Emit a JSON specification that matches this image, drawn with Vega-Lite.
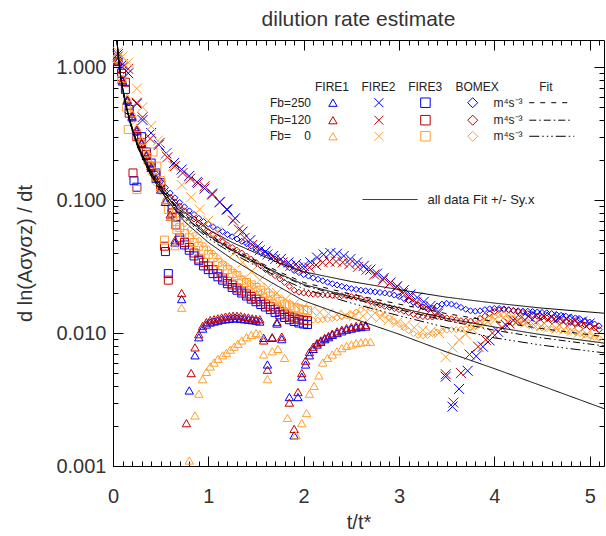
{
"$schema":"https://vega.github.io/schema/vega-lite/v6.json",
"width":491,"height":426,
"autosize":{"type":"none"},
"padding":{"left":113,"top":40,"right":2,"bottom":70},
"background":"white",
"config":{"view":{"stroke":"#000","strokeWidth":1},"font":"Liberation Sans","axis":{"grid":false,"domain":false,"tickColor":"#000","tickWidth":1,"labelFlush":false}},
"title":{"text":"dilution rate estimate","fontSize":21,"fontWeight":"normal","color":"#333","offset":10,"anchor":"middle"},
"datasets":{
"d250":[{"x":0.1,"y":0.8},{"x":0.15,"y":0.57},{"x":0.2,"y":0.43},{"x":0.25,"y":0.34},{"x":0.3,"y":0.27},{"x":0.35,"y":0.22},{"x":0.4,"y":0.185},{"x":0.45,"y":0.158},{"x":0.5,"y":0.138},{"x":0.55,"y":0.124},{"x":0.6,"y":0.113},{"x":0.65,"y":0.104},{"x":0.7,"y":0.096},{"x":0.75,"y":0.089},{"x":0.8,"y":0.083},{"x":0.85,"y":0.078},{"x":0.9,"y":0.073},{"x":0.95,"y":0.069},{"x":1.0,"y":0.066},{"x":1.05,"y":0.063},{"x":1.1,"y":0.06},{"x":1.15,"y":0.058},{"x":1.2,"y":0.055},{"x":1.25,"y":0.053},{"x":1.3,"y":0.051},{"x":1.35,"y":0.049},{"x":1.4,"y":0.047},{"x":1.45,"y":0.045},{"x":1.5,"y":0.043},{"x":1.55,"y":0.041},{"x":1.6,"y":0.04},{"x":1.65,"y":0.038},{"x":1.7,"y":0.036},{"x":1.75,"y":0.0345},{"x":1.8,"y":0.033},{"x":1.85,"y":0.031},{"x":1.9,"y":0.0295},{"x":1.95,"y":0.0285},{"x":2.0,"y":0.0275},{"x":2.05,"y":0.0268},{"x":2.1,"y":0.026},{"x":2.15,"y":0.0254},{"x":2.2,"y":0.0247},{"x":2.25,"y":0.0241},{"x":2.3,"y":0.0235},{"x":2.35,"y":0.023},{"x":2.4,"y":0.0225},{"x":2.45,"y":0.022},{"x":2.5,"y":0.0216},{"x":2.55,"y":0.0213},{"x":2.6,"y":0.021},{"x":2.65,"y":0.0208},{"x":2.7,"y":0.0206},{"x":2.75,"y":0.0204},{"x":2.8,"y":0.0202},{"x":2.85,"y":0.02},{"x":2.9,"y":0.0197},{"x":2.95,"y":0.0193},{"x":3.0,"y":0.0188},{"x":3.05,"y":0.0182},{"x":3.1,"y":0.0176},{"x":3.15,"y":0.017},{"x":3.2,"y":0.0163},{"x":3.25,"y":0.0157},{"x":3.3,"y":0.0152},{"x":3.35,"y":0.0154},{"x":3.4,"y":0.016},{"x":3.45,"y":0.0165},{"x":3.5,"y":0.0167},{"x":3.55,"y":0.0165},{"x":3.6,"y":0.0161},{"x":3.65,"y":0.0156},{"x":3.7,"y":0.0151},{"x":3.75,"y":0.0147},{"x":3.8,"y":0.0146},{"x":3.85,"y":0.0147},{"x":3.9,"y":0.015},{"x":3.95,"y":0.0152},{"x":4.0,"y":0.0153},{"x":4.05,"y":0.0153},{"x":4.1,"y":0.0152},{"x":4.15,"y":0.015},{"x":4.2,"y":0.0148},{"x":4.25,"y":0.0147},{"x":4.3,"y":0.0146},{"x":4.35,"y":0.0146},{"x":4.4,"y":0.0145},{"x":4.45,"y":0.0144},{"x":4.5,"y":0.0143},{"x":4.55,"y":0.0142},{"x":4.6,"y":0.014},{"x":4.65,"y":0.0138},{"x":4.7,"y":0.0136},{"x":4.75,"y":0.0134},{"x":4.8,"y":0.0132},{"x":4.85,"y":0.013},{"x":4.9,"y":0.0127},{"x":4.95,"y":0.0124},{"x":5.0,"y":0.0121},{"x":5.05,"y":0.0117},{"x":5.1,"y":0.0113}],
"d120":[{"x":0.1,"y":0.78},{"x":0.15,"y":0.55},{"x":0.2,"y":0.41},{"x":0.25,"y":0.32},{"x":0.3,"y":0.255},{"x":0.35,"y":0.207},{"x":0.4,"y":0.172},{"x":0.45,"y":0.147},{"x":0.5,"y":0.129},{"x":0.55,"y":0.116},{"x":0.6,"y":0.105},{"x":0.65,"y":0.097},{"x":0.7,"y":0.09},{"x":0.75,"y":0.083},{"x":0.8,"y":0.077},{"x":0.85,"y":0.072},{"x":0.9,"y":0.067},{"x":0.95,"y":0.062},{"x":1.0,"y":0.058},{"x":1.05,"y":0.055},{"x":1.1,"y":0.052},{"x":1.15,"y":0.049},{"x":1.2,"y":0.046},{"x":1.25,"y":0.044},{"x":1.3,"y":0.042},{"x":1.35,"y":0.04},{"x":1.4,"y":0.038},{"x":1.45,"y":0.036},{"x":1.5,"y":0.034},{"x":1.55,"y":0.032},{"x":1.6,"y":0.03},{"x":1.65,"y":0.0285},{"x":1.7,"y":0.027},{"x":1.75,"y":0.0255},{"x":1.8,"y":0.024},{"x":1.85,"y":0.0225},{"x":1.9,"y":0.021},{"x":1.95,"y":0.0203},{"x":2.0,"y":0.02},{"x":2.05,"y":0.0198},{"x":2.1,"y":0.0196},{"x":2.15,"y":0.0195},{"x":2.2,"y":0.0194},{"x":2.25,"y":0.0193},{"x":2.3,"y":0.0192},{"x":2.35,"y":0.0192},{"x":2.4,"y":0.0191},{"x":2.45,"y":0.019},{"x":2.5,"y":0.0188},{"x":2.55,"y":0.0186},{"x":2.6,"y":0.0182},{"x":2.65,"y":0.0177},{"x":2.7,"y":0.0172},{"x":2.75,"y":0.0167},{"x":2.8,"y":0.0163},{"x":2.85,"y":0.0159},{"x":2.9,"y":0.0156},{"x":2.95,"y":0.0153},{"x":3.0,"y":0.015},{"x":3.05,"y":0.0146},{"x":3.1,"y":0.0142},{"x":3.15,"y":0.0138},{"x":3.2,"y":0.0135},{"x":3.25,"y":0.0133},{"x":3.3,"y":0.0132},{"x":3.35,"y":0.0132},{"x":3.4,"y":0.0133},{"x":3.45,"y":0.0132},{"x":3.5,"y":0.013},{"x":3.55,"y":0.0128},{"x":3.6,"y":0.0126},{"x":3.65,"y":0.0124},{"x":3.7,"y":0.0123},{"x":3.75,"y":0.0123},{"x":3.8,"y":0.0125},{"x":3.85,"y":0.0129},{"x":3.9,"y":0.0134},{"x":3.95,"y":0.014},{"x":4.0,"y":0.0145},{"x":4.05,"y":0.0149},{"x":4.1,"y":0.015},{"x":4.15,"y":0.0149},{"x":4.2,"y":0.0147},{"x":4.25,"y":0.0145},{"x":4.3,"y":0.0143},{"x":4.35,"y":0.014},{"x":4.4,"y":0.0137},{"x":4.45,"y":0.0134},{"x":4.5,"y":0.0132},{"x":4.55,"y":0.013},{"x":4.6,"y":0.0128},{"x":4.65,"y":0.0126},{"x":4.7,"y":0.0124},{"x":4.75,"y":0.0122},{"x":4.8,"y":0.012},{"x":4.85,"y":0.0119},{"x":4.9,"y":0.0117},{"x":4.95,"y":0.0115},{"x":5.0,"y":0.0112},{"x":5.05,"y":0.0109},{"x":5.1,"y":0.0106}],
"d0":[{"x":0.1,"y":0.75},{"x":0.15,"y":0.53},{"x":0.2,"y":0.39},{"x":0.25,"y":0.3},{"x":0.3,"y":0.24},{"x":0.35,"y":0.19},{"x":0.4,"y":0.158},{"x":0.45,"y":0.133},{"x":0.5,"y":0.115},{"x":0.55,"y":0.101},{"x":0.6,"y":0.09},{"x":0.65,"y":0.081},{"x":0.7,"y":0.073},{"x":0.75,"y":0.066},{"x":0.8,"y":0.06},{"x":0.85,"y":0.055},{"x":0.9,"y":0.05},{"x":0.95,"y":0.046},{"x":1.0,"y":0.043},{"x":1.05,"y":0.04},{"x":1.1,"y":0.037},{"x":1.15,"y":0.034},{"x":1.2,"y":0.032},{"x":1.25,"y":0.03},{"x":1.3,"y":0.028},{"x":1.35,"y":0.026},{"x":1.4,"y":0.0245},{"x":1.45,"y":0.023},{"x":1.5,"y":0.0215},{"x":1.55,"y":0.02},{"x":1.6,"y":0.019},{"x":1.65,"y":0.018},{"x":1.7,"y":0.017},{"x":1.75,"y":0.016},{"x":1.8,"y":0.0152},{"x":1.85,"y":0.0145},{"x":1.9,"y":0.0138},{"x":1.95,"y":0.0132},{"x":2.0,"y":0.0128},{"x":2.05,"y":0.0126},{"x":2.1,"y":0.0125},{"x":2.15,"y":0.0125},{"x":2.2,"y":0.0126},{"x":2.25,"y":0.0127},{"x":2.3,"y":0.0128},{"x":2.35,"y":0.013},{"x":2.4,"y":0.0132},{"x":2.45,"y":0.0134},{"x":2.5,"y":0.0138},{"x":2.55,"y":0.0144},{"x":2.6,"y":0.015},{"x":2.65,"y":0.0154},{"x":2.7,"y":0.0153},{"x":2.75,"y":0.0148},{"x":2.8,"y":0.0142},{"x":2.85,"y":0.0136},{"x":2.9,"y":0.013},{"x":2.95,"y":0.0123},{"x":3.0,"y":0.0116},{"x":3.05,"y":0.011},{"x":3.1,"y":0.0104},{"x":3.15,"y":0.0099},{"x":3.2,"y":0.0096},{"x":3.25,"y":0.0095},{"x":3.3,"y":0.0096},{"x":3.35,"y":0.0099},{"x":3.4,"y":0.0102},{"x":3.45,"y":0.0104},{"x":3.5,"y":0.0105},{"x":3.55,"y":0.0106},{"x":3.6,"y":0.0106},{"x":3.65,"y":0.0107},{"x":3.7,"y":0.0108},{"x":3.75,"y":0.011},{"x":3.8,"y":0.0113},{"x":3.85,"y":0.0117},{"x":3.9,"y":0.0122},{"x":3.95,"y":0.0128},{"x":4.0,"y":0.0133},{"x":4.05,"y":0.0137},{"x":4.1,"y":0.0138},{"x":4.15,"y":0.0135},{"x":4.2,"y":0.013},{"x":4.25,"y":0.0124},{"x":4.3,"y":0.0119},{"x":4.35,"y":0.0115},{"x":4.4,"y":0.0112},{"x":4.45,"y":0.011},{"x":4.5,"y":0.0109},{"x":4.55,"y":0.0108},{"x":4.6,"y":0.0107},{"x":4.65,"y":0.0106},{"x":4.7,"y":0.0105},{"x":4.75,"y":0.0104},{"x":4.8,"y":0.0103},{"x":4.85,"y":0.0101},{"x":4.9,"y":0.0099},{"x":4.95,"y":0.0097},{"x":5.0,"y":0.0095},{"x":5.05,"y":0.0093},{"x":5.1,"y":0.0091}],
"q250":[{"x":0.05,"y":1.15},{"x":0.09,"y":0.9},{"x":0.13,"y":0.68},{"x":0.17,"y":0.48},{"x":0.22,"y":0.14},{"x":0.25,"y":0.125},{"x":0.3,"y":0.3},{"x":0.35,"y":0.23},{"x":0.4,"y":0.19},{"x":0.45,"y":0.16},{"x":0.5,"y":0.135},{"x":0.55,"y":0.041},{"x":0.58,"y":0.028},{"x":0.62,"y":0.085},{"x":0.66,"y":0.075},{"x":0.7,"y":0.05},{"x":0.75,"y":0.046},{"x":0.8,"y":0.042},{"x":0.85,"y":0.038},{"x":0.9,"y":0.035},{"x":0.95,"y":0.032},{"x":1.0,"y":0.03},{"x":1.05,"y":0.028},{"x":1.1,"y":0.0265},{"x":1.15,"y":0.025},{"x":1.2,"y":0.0235},{"x":1.25,"y":0.022},{"x":1.3,"y":0.021},{"x":1.35,"y":0.02},{"x":1.4,"y":0.019},{"x":1.45,"y":0.018},{"x":1.5,"y":0.0172},{"x":1.55,"y":0.0164},{"x":1.6,"y":0.0157},{"x":1.65,"y":0.015},{"x":1.7,"y":0.0143},{"x":1.75,"y":0.0137},{"x":1.8,"y":0.0131},{"x":1.85,"y":0.0126},{"x":1.9,"y":0.0122},{"x":1.95,"y":0.0119},{"x":2.0,"y":0.0117},{"x":2.04,"y":0.0116}],
"q120":[{"x":0.05,"y":1.1},{"x":0.09,"y":0.85},{"x":0.13,"y":0.77},{"x":0.17,"y":0.45},{"x":0.21,"y":0.16},{"x":0.25,"y":0.3},{"x":0.3,"y":0.27},{"x":0.35,"y":0.22},{"x":0.4,"y":0.18},{"x":0.45,"y":0.155},{"x":0.5,"y":0.13},{"x":0.54,"y":0.045},{"x":0.58,"y":0.025},{"x":0.62,"y":0.08},{"x":0.66,"y":0.065},{"x":0.7,"y":0.052},{"x":0.75,"y":0.048},{"x":0.8,"y":0.044},{"x":0.85,"y":0.04},{"x":0.9,"y":0.036},{"x":0.95,"y":0.034},{"x":1.0,"y":0.032},{"x":1.05,"y":0.03},{"x":1.1,"y":0.028},{"x":1.15,"y":0.026},{"x":1.2,"y":0.0245},{"x":1.25,"y":0.023},{"x":1.3,"y":0.0218},{"x":1.35,"y":0.0207},{"x":1.4,"y":0.0197},{"x":1.45,"y":0.0188},{"x":1.5,"y":0.018},{"x":1.55,"y":0.0172},{"x":1.6,"y":0.0165},{"x":1.65,"y":0.0158},{"x":1.7,"y":0.0151},{"x":1.75,"y":0.0145},{"x":1.8,"y":0.0139},{"x":1.85,"y":0.0134},{"x":1.9,"y":0.013},{"x":1.95,"y":0.0127},{"x":2.0,"y":0.0125},{"x":2.04,"y":0.0124}],
"q0":[{"x":0.05,"y":1.15},{"x":0.09,"y":0.8},{"x":0.14,"y":0.5},{"x":0.16,"y":0.34},{"x":0.25,"y":0.12},{"x":0.3,"y":0.26},{"x":0.36,"y":0.21},{"x":0.42,"y":0.23},{"x":0.46,"y":0.18},{"x":0.5,"y":0.14},{"x":0.54,"y":0.05},{"x":0.58,"y":0.085},{"x":0.62,"y":0.075},{"x":0.67,"y":0.06},{"x":0.7,"y":0.062},{"x":0.75,"y":0.056},{"x":0.8,"y":0.052},{"x":0.85,"y":0.048},{"x":0.9,"y":0.045},{"x":0.95,"y":0.042},{"x":1.0,"y":0.039},{"x":1.05,"y":0.037},{"x":1.1,"y":0.034},{"x":1.15,"y":0.032},{"x":1.2,"y":0.03},{"x":1.25,"y":0.028},{"x":1.3,"y":0.027},{"x":1.35,"y":0.025},{"x":1.4,"y":0.024},{"x":1.45,"y":0.023},{"x":1.5,"y":0.022},{"x":1.55,"y":0.021},{"x":1.6,"y":0.02},{"x":1.65,"y":0.019},{"x":1.7,"y":0.018},{"x":1.75,"y":0.0172},{"x":1.8,"y":0.0165},{"x":1.85,"y":0.016},{"x":1.9,"y":0.0155},{"x":1.95,"y":0.0152},{"x":2.0,"y":0.015},{"x":2.04,"y":0.0148}],
"t250":[{"x":0.05,"y":1.1},{"x":0.1,"y":0.78},{"x":0.15,"y":0.56},{"x":0.2,"y":0.42},{"x":0.25,"y":0.33},{"x":0.3,"y":0.265},{"x":0.35,"y":0.215},{"x":0.4,"y":0.175},{"x":0.45,"y":0.145},{"x":0.5,"y":0.12},{"x":0.55,"y":0.097},{"x":0.6,"y":0.075},{"x":0.65,"y":0.048},{"x":0.72,"y":0.018},{"x":0.8,"y":0.0037},{"x":0.86,"y":0.0068},{"x":0.9,"y":0.0093},{"x":0.94,"y":0.0108},{"x":0.98,"y":0.0116},{"x":1.02,"y":0.012},{"x":1.06,"y":0.0122},{"x":1.1,"y":0.0124},{"x":1.14,"y":0.0126},{"x":1.18,"y":0.0127},{"x":1.22,"y":0.0128},{"x":1.26,"y":0.0129},{"x":1.3,"y":0.0129},{"x":1.34,"y":0.0128},{"x":1.38,"y":0.0127},{"x":1.42,"y":0.0126},{"x":1.46,"y":0.0125},{"x":1.5,"y":0.0124},{"x":1.54,"y":0.0122},{"x":1.58,"y":0.0092},{"x":1.62,"y":0.0058},{"x":1.67,"y":0.0092},{"x":1.72,"y":0.0118},{"x":1.77,"y":0.009},{"x":1.85,"y":0.0033},{"x":1.9,"y":0.0017},{"x":1.94,"y":0.0033},{"x":1.98,"y":0.0047},{"x":2.02,"y":0.0058},{"x":2.06,"y":0.0068},{"x":2.1,"y":0.0076},{"x":2.14,"y":0.0082},{"x":2.18,"y":0.0086},{"x":2.22,"y":0.009},{"x":2.26,"y":0.0093},{"x":2.3,"y":0.0097},{"x":2.35,"y":0.01},{"x":2.4,"y":0.0103},{"x":2.45,"y":0.0106},{"x":2.5,"y":0.0108},{"x":2.55,"y":0.011},{"x":2.6,"y":0.0111},{"x":2.65,"y":0.0112}],
"t120":[{"x":0.05,"y":1.12},{"x":0.1,"y":0.8},{"x":0.15,"y":0.57},{"x":0.2,"y":0.43},{"x":0.25,"y":0.34},{"x":0.3,"y":0.27},{"x":0.35,"y":0.22},{"x":0.4,"y":0.18},{"x":0.45,"y":0.15},{"x":0.5,"y":0.125},{"x":0.55,"y":0.1},{"x":0.6,"y":0.078},{"x":0.65,"y":0.05},{"x":0.72,"y":0.02},{"x":0.77,"y":0.0021},{"x":0.82,"y":0.005},{"x":0.86,"y":0.0078},{"x":0.9,"y":0.0098},{"x":0.94,"y":0.0113},{"x":0.98,"y":0.0121},{"x":1.02,"y":0.0125},{"x":1.06,"y":0.0127},{"x":1.1,"y":0.0129},{"x":1.14,"y":0.0131},{"x":1.18,"y":0.0133},{"x":1.22,"y":0.0134},{"x":1.26,"y":0.0135},{"x":1.3,"y":0.0135},{"x":1.34,"y":0.0134},{"x":1.38,"y":0.0132},{"x":1.42,"y":0.0131},{"x":1.46,"y":0.0129},{"x":1.5,"y":0.0128},{"x":1.54,"y":0.0127},{"x":1.58,"y":0.0088},{"x":1.62,"y":0.0053},{"x":1.67,"y":0.0093},{"x":1.72,"y":0.0121},{"x":1.77,"y":0.0094},{"x":1.85,"y":0.003},{"x":1.9,"y":0.0019},{"x":1.94,"y":0.0036},{"x":1.98,"y":0.005},{"x":2.02,"y":0.0062},{"x":2.06,"y":0.0072},{"x":2.1,"y":0.0079},{"x":2.14,"y":0.0084},{"x":2.18,"y":0.0088},{"x":2.22,"y":0.0092},{"x":2.26,"y":0.0095},{"x":2.3,"y":0.0099},{"x":2.35,"y":0.0103},{"x":2.4,"y":0.0106},{"x":2.45,"y":0.0109},{"x":2.5,"y":0.0111},{"x":2.55,"y":0.0113},{"x":2.6,"y":0.0114},{"x":2.65,"y":0.0115}],
"t0":[{"x":0.05,"y":1.15},{"x":0.1,"y":0.82},{"x":0.15,"y":0.59},{"x":0.2,"y":0.45},{"x":0.25,"y":0.35},{"x":0.3,"y":0.28},{"x":0.35,"y":0.225},{"x":0.4,"y":0.185},{"x":0.45,"y":0.15},{"x":0.5,"y":0.125},{"x":0.55,"y":0.1},{"x":0.6,"y":0.075},{"x":0.65,"y":0.045},{"x":0.72,"y":0.0155},{"x":0.8,"y":0.0011},{"x":0.86,"y":0.0024},{"x":0.9,"y":0.0035},{"x":0.94,"y":0.0045},{"x":0.98,"y":0.0051},{"x":1.02,"y":0.0056},{"x":1.06,"y":0.006},{"x":1.1,"y":0.0064},{"x":1.15,"y":0.0068},{"x":1.19,"y":0.0071},{"x":1.23,"y":0.0075},{"x":1.27,"y":0.0079},{"x":1.31,"y":0.0083},{"x":1.35,"y":0.0088},{"x":1.4,"y":0.0093},{"x":1.45,"y":0.0097},{"x":1.5,"y":0.01},{"x":1.54,"y":0.0098},{"x":1.58,"y":0.0069},{"x":1.62,"y":0.0045},{"x":1.67,"y":0.0073},{"x":1.73,"y":0.0076},{"x":1.8,"y":0.0065},{"x":1.83,"y":0.0023},{"x":1.92,"y":0.0017},{"x":1.98,"y":0.0021},{"x":2.03,"y":0.0025},{"x":2.06,"y":0.0035},{"x":2.11,"y":0.004},{"x":2.16,"y":0.0048},{"x":2.2,"y":0.006},{"x":2.25,"y":0.0065},{"x":2.3,"y":0.0069},{"x":2.35,"y":0.0073},{"x":2.4,"y":0.0077},{"x":2.45,"y":0.008},{"x":2.5,"y":0.0082},{"x":2.55,"y":0.0084},{"x":2.6,"y":0.0085},{"x":2.65,"y":0.0086},{"x":2.7,"y":0.0086}],
"c250":[{"x":0.05,"y":1.25},{"x":0.1,"y":1.05},{"x":0.16,"y":0.9},{"x":0.25,"y":0.53},{"x":0.31,"y":0.4},{"x":0.4,"y":0.32},{"x":0.48,"y":0.26},{"x":0.56,"y":0.225},{"x":0.64,"y":0.19},{"x":0.72,"y":0.17},{"x":0.8,"y":0.152},{"x":0.88,"y":0.137},{"x":0.96,"y":0.122},{"x":1.04,"y":0.112},{"x":1.12,"y":0.097},{"x":1.2,"y":0.085},{"x":1.28,"y":0.073},{"x":1.36,"y":0.058},{"x":1.44,"y":0.05},{"x":1.52,"y":0.045},{"x":1.6,"y":0.041},{"x":1.68,"y":0.038},{"x":1.76,"y":0.036},{"x":1.84,"y":0.034},{"x":1.92,"y":0.033},{"x":2.0,"y":0.032},{"x":2.07,"y":0.034},{"x":2.14,"y":0.037},{"x":2.21,"y":0.039},{"x":2.28,"y":0.04},{"x":2.35,"y":0.0395},{"x":2.42,"y":0.038},{"x":2.49,"y":0.036},{"x":2.56,"y":0.034},{"x":2.63,"y":0.032},{"x":2.7,"y":0.03},{"x":2.77,"y":0.028},{"x":2.84,"y":0.026},{"x":2.91,"y":0.024},{"x":2.98,"y":0.0225},{"x":3.05,"y":0.021},{"x":3.12,"y":0.0195},{"x":3.19,"y":0.0185},{"x":3.26,"y":0.0172},{"x":3.33,"y":0.016},{"x":3.41,"y":0.0145},{"x":3.49,"y":0.0047},{"x":3.56,"y":0.0028},{"x":3.63,"y":0.0038},{"x":3.72,"y":0.0052},{"x":3.81,"y":0.0067},{"x":3.88,"y":0.0079},{"x":3.95,"y":0.0088},{"x":4.04,"y":0.0102},{"x":4.12,"y":0.0115},{"x":4.2,"y":0.0125},{"x":4.28,"y":0.013},{"x":4.36,"y":0.0133},{"x":4.44,"y":0.0135},{"x":4.52,"y":0.0134},{"x":4.6,"y":0.0132},{"x":4.68,"y":0.013},{"x":4.76,"y":0.0128},{"x":4.84,"y":0.0125},{"x":4.92,"y":0.0122},{"x":5.0,"y":0.0118}],
"c120":[{"x":0.05,"y":1.2},{"x":0.1,"y":1.0},{"x":0.16,"y":0.97},{"x":0.25,"y":0.54},{"x":0.31,"y":0.42},{"x":0.39,"y":0.29},{"x":0.49,"y":0.27},{"x":0.57,"y":0.21},{"x":0.65,"y":0.18},{"x":0.73,"y":0.16},{"x":0.81,"y":0.145},{"x":0.89,"y":0.134},{"x":0.96,"y":0.127},{"x":1.04,"y":0.11},{"x":1.12,"y":0.096},{"x":1.19,"y":0.085},{"x":1.26,"y":0.07},{"x":1.32,"y":0.06},{"x":1.38,"y":0.052},{"x":1.46,"y":0.046},{"x":1.54,"y":0.042},{"x":1.62,"y":0.039},{"x":1.7,"y":0.036},{"x":1.78,"y":0.034},{"x":1.86,"y":0.032},{"x":1.94,"y":0.031},{"x":2.0,"y":0.0305},{"x":2.06,"y":0.031},{"x":2.13,"y":0.0325},{"x":2.2,"y":0.034},{"x":2.27,"y":0.0345},{"x":2.34,"y":0.0345},{"x":2.41,"y":0.034},{"x":2.48,"y":0.033},{"x":2.57,"y":0.0315},{"x":2.66,"y":0.03},{"x":2.74,"y":0.0275},{"x":2.83,"y":0.025},{"x":2.9,"y":0.0235},{"x":2.97,"y":0.022},{"x":3.04,"y":0.02},{"x":3.11,"y":0.0185},{"x":3.18,"y":0.017},{"x":3.25,"y":0.0158},{"x":3.33,"y":0.0148},{"x":3.41,"y":0.014},{"x":3.49,"y":0.0049},{"x":3.57,"y":0.003},{"x":3.65,"y":0.005},{"x":3.74,"y":0.0069},{"x":3.83,"y":0.0079},{"x":3.91,"y":0.0089},{"x":3.98,"y":0.01},{"x":4.08,"y":0.011},{"x":4.16,"y":0.0118},{"x":4.24,"y":0.0123},{"x":4.32,"y":0.0126},{"x":4.4,"y":0.0127},{"x":4.48,"y":0.0127},{"x":4.56,"y":0.0126},{"x":4.64,"y":0.0124},{"x":4.72,"y":0.0122},{"x":4.8,"y":0.012},{"x":4.88,"y":0.0117},{"x":4.96,"y":0.0113},{"x":5.04,"y":0.011}],
"c0":[{"x":0.05,"y":1.3},{"x":0.1,"y":1.2},{"x":0.16,"y":1.08},{"x":0.25,"y":0.69},{"x":0.31,"y":0.5},{"x":0.4,"y":0.36},{"x":0.47,"y":0.28},{"x":0.55,"y":0.22},{"x":0.63,"y":0.18},{"x":0.72,"y":0.13},{"x":0.82,"y":0.105},{"x":0.91,"y":0.085},{"x":1.0,"y":0.07},{"x":1.09,"y":0.058},{"x":1.18,"y":0.048},{"x":1.27,"y":0.04},{"x":1.36,"y":0.034},{"x":1.45,"y":0.029},{"x":1.54,"y":0.025},{"x":1.63,"y":0.022},{"x":1.72,"y":0.02},{"x":1.81,"y":0.018},{"x":1.9,"y":0.0165},{"x":1.99,"y":0.0155},{"x":2.08,"y":0.0148},{"x":2.17,"y":0.0143},{"x":2.26,"y":0.014},{"x":2.35,"y":0.0138},{"x":2.44,"y":0.0136},{"x":2.53,"y":0.0135},{"x":2.62,"y":0.0134},{"x":2.71,"y":0.0133},{"x":2.8,"y":0.013},{"x":2.89,"y":0.0125},{"x":2.98,"y":0.012},{"x":3.07,"y":0.0115},{"x":3.16,"y":0.011},{"x":3.25,"y":0.0105},{"x":3.33,"y":0.0102},{"x":3.42,"y":0.01},{"x":3.49,"y":0.0066},{"x":3.56,"y":0.0078},{"x":3.63,"y":0.0089},{"x":3.7,"y":0.0098},{"x":3.77,"y":0.0107},{"x":3.85,"y":0.0115},{"x":3.93,"y":0.0122},{"x":4.01,"y":0.0127},{"x":4.09,"y":0.013},{"x":4.17,"y":0.0128},{"x":4.25,"y":0.0124},{"x":4.33,"y":0.012},{"x":4.41,"y":0.0116},{"x":4.49,"y":0.0113},{"x":4.57,"y":0.011},{"x":4.65,"y":0.0108},{"x":4.73,"y":0.0106},{"x":4.81,"y":0.0104},{"x":4.89,"y":0.0101},{"x":4.97,"y":0.0098},{"x":5.05,"y":0.0095}],
"lines":[
{"ln":"up","sty":"solid","x":0.04,"y":1.656},{"ln":"up","sty":"solid","x":0.06,"y":1.126},{"ln":"up","sty":"solid","x":0.08,"y":0.866},{"ln":"up","sty":"solid","x":0.1,"y":0.706},{"ln":"up","sty":"solid","x":0.13,"y":0.546},{"ln":"up","sty":"solid","x":0.16,"y":0.446},{"ln":"up","sty":"solid","x":0.2,"y":0.351},{"ln":"up","sty":"solid","x":0.25,"y":0.276},{"ln":"up","sty":"solid","x":0.3,"y":0.226},{"ln":"up","sty":"solid","x":0.4,"y":0.164},{"ln":"up","sty":"solid","x":0.5,"y":0.129},{"ln":"up","sty":"solid","x":0.6,"y":0.106},{"ln":"up","sty":"solid","x":0.75,"y":0.081},{"ln":"up","sty":"solid","x":1.0,"y":0.06},{"ln":"up","sty":"solid","x":1.25,"y":0.048},{"ln":"up","sty":"solid","x":1.5,"y":0.04},{"ln":"up","sty":"solid","x":1.75,"y":0.0335},{"ln":"up","sty":"solid","x":2.0,"y":0.0289},{"ln":"up","sty":"solid","x":2.5,"y":0.0244},{"ln":"up","sty":"solid","x":3.0,"y":0.0212},{"ln":"up","sty":"solid","x":3.5,"y":0.0186},{"ln":"up","sty":"solid","x":4.0,"y":0.0168},{"ln":"up","sty":"solid","x":4.5,"y":0.0154},{"ln":"up","sty":"solid","x":5.15,"y":0.0141},
{"ln":"mid","sty":"solid","x":0.04,"y":1.65},{"ln":"mid","sty":"solid","x":0.06,"y":1.12},{"ln":"mid","sty":"solid","x":0.08,"y":0.86},{"ln":"mid","sty":"solid","x":0.1,"y":0.7},{"ln":"mid","sty":"solid","x":0.13,"y":0.54},{"ln":"mid","sty":"solid","x":0.16,"y":0.44},{"ln":"mid","sty":"solid","x":0.2,"y":0.345},{"ln":"mid","sty":"solid","x":0.25,"y":0.27},{"ln":"mid","sty":"solid","x":0.3,"y":0.22},{"ln":"mid","sty":"solid","x":0.4,"y":0.158},{"ln":"mid","sty":"solid","x":0.5,"y":0.123},{"ln":"mid","sty":"solid","x":0.6,"y":0.1},{"ln":"mid","sty":"solid","x":0.75,"y":0.075},{"ln":"mid","sty":"solid","x":1.0,"y":0.054},{"ln":"mid","sty":"solid","x":1.25,"y":0.042},{"ln":"mid","sty":"solid","x":1.5,"y":0.034},{"ln":"mid","sty":"solid","x":1.75,"y":0.0278},{"ln":"mid","sty":"solid","x":2.0,"y":0.0232},{"ln":"mid","sty":"solid","x":2.5,"y":0.0187},{"ln":"mid","sty":"solid","x":3.0,"y":0.0155},{"ln":"mid","sty":"solid","x":3.5,"y":0.0129},{"ln":"mid","sty":"solid","x":4.0,"y":0.0111},{"ln":"mid","sty":"solid","x":4.5,"y":0.0097},{"ln":"mid","sty":"solid","x":5.15,"y":0.0084},
{"ln":"lo","sty":"solid","x":0.04,"y":1.644},{"ln":"lo","sty":"solid","x":0.06,"y":1.114},{"ln":"lo","sty":"solid","x":0.08,"y":0.854},{"ln":"lo","sty":"solid","x":0.1,"y":0.694},{"ln":"lo","sty":"solid","x":0.13,"y":0.534},{"ln":"lo","sty":"solid","x":0.16,"y":0.434},{"ln":"lo","sty":"solid","x":0.2,"y":0.339},{"ln":"lo","sty":"solid","x":0.25,"y":0.264},{"ln":"lo","sty":"solid","x":0.3,"y":0.214},{"ln":"lo","sty":"solid","x":0.4,"y":0.152},{"ln":"lo","sty":"solid","x":0.5,"y":0.117},{"ln":"lo","sty":"solid","x":0.6,"y":0.094},{"ln":"lo","sty":"solid","x":0.75,"y":0.069},{"ln":"lo","sty":"solid","x":1.0,"y":0.048},{"ln":"lo","sty":"solid","x":1.25,"y":0.036},{"ln":"lo","sty":"solid","x":1.5,"y":0.028},{"ln":"lo","sty":"solid","x":1.75,"y":0.0221},{"ln":"lo","sty":"solid","x":2.0,"y":0.0175},{"ln":"lo","sty":"solid","x":2.5,"y":0.013},{"ln":"lo","sty":"solid","x":3.0,"y":0.0098},{"ln":"lo","sty":"solid","x":3.5,"y":0.0072},{"ln":"lo","sty":"solid","x":4.0,"y":0.0054},{"ln":"lo","sty":"solid","x":4.5,"y":0.004},{"ln":"lo","sty":"solid","x":5.15,"y":0.0027},
{"ln":"f250","sty":"dash","x":0.04,"y":1.66},{"ln":"f250","sty":"dash","x":0.06,"y":1.13},{"ln":"f250","sty":"dash","x":0.08,"y":0.87},{"ln":"f250","sty":"dash","x":0.1,"y":0.71},{"ln":"f250","sty":"dash","x":0.13,"y":0.55},{"ln":"f250","sty":"dash","x":0.16,"y":0.445},{"ln":"f250","sty":"dash","x":0.2,"y":0.35},{"ln":"f250","sty":"dash","x":0.25,"y":0.274},{"ln":"f250","sty":"dash","x":0.3,"y":0.223},{"ln":"f250","sty":"dash","x":0.4,"y":0.16},{"ln":"f250","sty":"dash","x":0.5,"y":0.125},{"ln":"f250","sty":"dash","x":0.6,"y":0.102},{"ln":"f250","sty":"dash","x":0.75,"y":0.077},{"ln":"f250","sty":"dash","x":1.0,"y":0.0555},{"ln":"f250","sty":"dash","x":1.25,"y":0.0432},{"ln":"f250","sty":"dash","x":1.5,"y":0.035},{"ln":"f250","sty":"dash","x":1.75,"y":0.0287},{"ln":"f250","sty":"dash","x":2.0,"y":0.024},{"ln":"f250","sty":"dash","x":2.5,"y":0.0196},{"ln":"f250","sty":"dash","x":3.0,"y":0.0165},{"ln":"f250","sty":"dash","x":3.5,"y":0.014},{"ln":"f250","sty":"dash","x":4.0,"y":0.0122},{"ln":"f250","sty":"dash","x":4.5,"y":0.0108},{"ln":"f250","sty":"dash","x":5.15,"y":0.0094},
{"ln":"f120","sty":"dashdot","x":0.04,"y":1.64},{"ln":"f120","sty":"dashdot","x":0.06,"y":1.11},{"ln":"f120","sty":"dashdot","x":0.08,"y":0.855},{"ln":"f120","sty":"dashdot","x":0.1,"y":0.695},{"ln":"f120","sty":"dashdot","x":0.13,"y":0.536},{"ln":"f120","sty":"dashdot","x":0.16,"y":0.436},{"ln":"f120","sty":"dashdot","x":0.2,"y":0.342},{"ln":"f120","sty":"dashdot","x":0.25,"y":0.267},{"ln":"f120","sty":"dashdot","x":0.3,"y":0.218},{"ln":"f120","sty":"dashdot","x":0.4,"y":0.156},{"ln":"f120","sty":"dashdot","x":0.5,"y":0.121},{"ln":"f120","sty":"dashdot","x":0.6,"y":0.099},{"ln":"f120","sty":"dashdot","x":0.75,"y":0.074},{"ln":"f120","sty":"dashdot","x":1.0,"y":0.0533},{"ln":"f120","sty":"dashdot","x":1.25,"y":0.0414},{"ln":"f120","sty":"dashdot","x":1.5,"y":0.0334},{"ln":"f120","sty":"dashdot","x":1.75,"y":0.0274},{"ln":"f120","sty":"dashdot","x":2.0,"y":0.0228},{"ln":"f120","sty":"dashdot","x":2.5,"y":0.0182},{"ln":"f120","sty":"dashdot","x":3.0,"y":0.015},{"ln":"f120","sty":"dashdot","x":3.5,"y":0.0124},{"ln":"f120","sty":"dashdot","x":4.0,"y":0.0105},{"ln":"f120","sty":"dashdot","x":4.5,"y":0.0092},{"ln":"f120","sty":"dashdot","x":5.15,"y":0.008},
{"ln":"f0","sty":"dashdotdot","x":0.04,"y":1.63},{"ln":"f0","sty":"dashdotdot","x":0.06,"y":1.1},{"ln":"f0","sty":"dashdotdot","x":0.08,"y":0.845},{"ln":"f0","sty":"dashdotdot","x":0.1,"y":0.685},{"ln":"f0","sty":"dashdotdot","x":0.13,"y":0.528},{"ln":"f0","sty":"dashdotdot","x":0.16,"y":0.428},{"ln":"f0","sty":"dashdotdot","x":0.2,"y":0.335},{"ln":"f0","sty":"dashdotdot","x":0.25,"y":0.261},{"ln":"f0","sty":"dashdotdot","x":0.3,"y":0.213},{"ln":"f0","sty":"dashdotdot","x":0.4,"y":0.152},{"ln":"f0","sty":"dashdotdot","x":0.5,"y":0.118},{"ln":"f0","sty":"dashdotdot","x":0.6,"y":0.096},{"ln":"f0","sty":"dashdotdot","x":0.75,"y":0.072},{"ln":"f0","sty":"dashdotdot","x":1.0,"y":0.0515},{"ln":"f0","sty":"dashdotdot","x":1.25,"y":0.0398},{"ln":"f0","sty":"dashdotdot","x":1.5,"y":0.032},{"ln":"f0","sty":"dashdotdot","x":1.75,"y":0.026},{"ln":"f0","sty":"dashdotdot","x":2.0,"y":0.0215},{"ln":"f0","sty":"dashdotdot","x":2.5,"y":0.0168},{"ln":"f0","sty":"dashdotdot","x":3.0,"y":0.0135},{"ln":"f0","sty":"dashdotdot","x":3.5,"y":0.011},{"ln":"f0","sty":"dashdotdot","x":4.0,"y":0.0092},{"ln":"f0","sty":"dashdotdot","x":4.5,"y":0.0081},{"ln":"f0","sty":"dashdotdot","x":5.15,"y":0.0071},
{"ln":"k250","sty":"dash","x":4.366,"y":0.54},{"ln":"k250","sty":"dash","x":4.768,"y":0.54},
{"ln":"k120","sty":"dashdot","x":4.366,"y":0.399},{"ln":"k120","sty":"dashdot","x":4.814,"y":0.399},
{"ln":"k0","sty":"dashdotdot","x":4.366,"y":0.302},{"ln":"k0","sty":"dashdotdot","x":4.838,"y":0.302},
{"ln":"kall","sty":"solid","x":2.618,"y":0.101},{"ln":"kall","sty":"solid","x":3.194,"y":0.101}],
"legsym":[{"sh":"FIRE1","c":"250","x":2.307,"y":0.54},{"sh":"FIRE2","c":"250","x":2.789,"y":0.54},{"sh":"FIRE3","c":"250","x":3.277,"y":0.54},{"sh":"BOMEX","c":"250","x":3.773,"y":0.54},{"sh":"FIRE1","c":"120","x":2.307,"y":0.399},{"sh":"FIRE2","c":"120","x":2.789,"y":0.399},{"sh":"FIRE3","c":"120","x":3.277,"y":0.399},{"sh":"BOMEX","c":"120","x":3.773,"y":0.399},{"sh":"FIRE1","c":"0","x":2.307,"y":0.302},{"sh":"FIRE2","c":"0","x":2.789,"y":0.302},{"sh":"FIRE3","c":"0","x":3.277,"y":0.302},{"sh":"BOMEX","c":"0","x":3.773,"y":0.302}],
"legtxt":[{"t":"FIRE1","x":2.297,"y":0.711},{"t":"FIRE2","x":2.785,"y":0.711},{"t":"FIRE3","x":3.274,"y":0.711},{"t":"BOMEX","x":3.819,"y":0.711},{"t":"Fit","x":4.541,"y":0.711},{"t":"Fb=250","x":1.862,"y":0.54},{"t":"Fb=120","x":1.862,"y":0.399},{"t":"Fb=\u2007\u20070","x":1.862,"y":0.302},{"t":"m\u2074s\u207b\u00b3","x":4.143,"y":0.54},{"t":"m\u2074s\u207b\u00b3","x":4.143,"y":0.399},{"t":"m\u2074s\u207b\u00b3","x":4.143,"y":0.302}],
"legtxt2":[{"t":"all data Fit +/- Sy.x","x":3.298,"y":0.101}]
},
"encoding":{
"x":{"field":"x","type":"quantitative","scale":{"domain":[0,5.15],"nice":false,"zero":false},"axis":null},
"y":{"field":"y","type":"quantitative","scale":{"type":"log","domain":[0.001,1.6],"nice":false},"axis":null}
},
"layer":[
{"data":{"name":"d250"},"mark":{"type":"point","shape":"diamond","size":36,"filled":false,"color":"#0000ff","strokeWidth":1,"opacity":1},
"encoding":{
"x":{"field":"x","type":"quantitative","scale":{"domain":[0,5.15],"nice":false,"zero":false},"axis":{"orient":"bottom","values":[0,1,2,3,4,5],"format":"d","ticks":false,"labelPadding":20,"labelFontSize":20,"labelColor":"#333","labelFont":"Liberation Sans","title":"t/t*","titleFontSize":20,"titleFontWeight":"normal","titleColor":"#333","titleFont":"Liberation Sans","titlePadding":6}},
"y":{"field":"y","type":"quantitative","scale":{"type":"log","domain":[0.001,1.6],"nice":false},"axis":{"orient":"left","values":[0.001,0.01,0.1,1],"format":".3f","ticks":false,"labelPadding":7,"labelFontSize":20,"labelColor":"#333","labelFont":"Liberation Sans","title":"d ln(Aσyσz) / dt","titleFontSize":20,"titleFontWeight":"normal","titleColor":"#333","titleFont":"Liberation Sans","titlePadding":20}}}},
{"data":{"name":"d120"},"mark":{"type":"point","shape":"diamond","size":36,"filled":false,"color":"#c00000","strokeWidth":1,"opacity":1},
"encoding":{
"x":{"field":"x","type":"quantitative","scale":{"domain":[0,5.15],"nice":false,"zero":false},"axis":{"orient":"bottom","values":[0,1,2,3,4,5],"labels":false,"tickSize":-10,"title":null}},
"y":{"field":"y","type":"quantitative","scale":{"type":"log","domain":[0.001,1.6],"nice":false},"axis":{"orient":"left","values":[0.001,0.01,0.1,1],"labels":false,"tickSize":-10,"title":null}}}},
{"data":{"name":"d0"},"mark":{"type":"point","shape":"diamond","size":36,"filled":false,"color":"#ff9f30","strokeWidth":1,"opacity":1},
"encoding":{
"x":{"field":"x","type":"quantitative","scale":{"domain":[0,5.15],"nice":false,"zero":false},"axis":{"orient":"bottom","values":[0.1,0.2,0.3,0.4,0.5,0.6,0.7,0.8,0.9,1.1,1.2,1.3,1.4,1.5,1.6,1.7,1.8,1.9,2.1,2.2,2.3,2.4,2.5,2.6,2.7,2.8,2.9,3.1,3.2,3.3,3.4,3.5,3.6,3.7,3.8,3.9,4.1,4.2,4.3,4.4,4.5,4.6,4.7,4.8,4.9,5.1],"labels":false,"tickSize":-5,"title":null}},
"y":{"field":"y","type":"quantitative","scale":{"type":"log","domain":[0.001,1.6],"nice":false},"axis":{"orient":"left","values":[0.002,0.003,0.004,0.005,0.006,0.007,0.008,0.009,0.02,0.03,0.04,0.05,0.06,0.07,0.08,0.09,0.2,0.3,0.4,0.5,0.6,0.7,0.8,0.9],"labels":false,"tickSize":-5,"title":null}}}},
{"data":{"name":"q250"},"mark":{"type":"point","shape":"square","size":64,"filled":false,"color":"#0000ff","strokeWidth":1,"opacity":1},
"encoding":{
"x":{"field":"x","type":"quantitative","scale":{"domain":[0,5.15],"nice":false,"zero":false},"axis":{"orient":"top","values":[0,1,2,3,4,5],"labels":false,"tickSize":-10,"title":null}},
"y":{"field":"y","type":"quantitative","scale":{"type":"log","domain":[0.001,1.6],"nice":false},"axis":{"orient":"right","values":[0.001,0.01,0.1,1],"labels":false,"tickSize":-10,"title":null}}}},
{"data":{"name":"q120"},"mark":{"type":"point","shape":"square","size":64,"filled":false,"color":"#c00000","strokeWidth":1,"opacity":1},
"encoding":{
"x":{"field":"x","type":"quantitative","scale":{"domain":[0,5.15],"nice":false,"zero":false},"axis":{"orient":"top","values":[0.1,0.2,0.3,0.4,0.5,0.6,0.7,0.8,0.9,1.1,1.2,1.3,1.4,1.5,1.6,1.7,1.8,1.9,2.1,2.2,2.3,2.4,2.5,2.6,2.7,2.8,2.9,3.1,3.2,3.3,3.4,3.5,3.6,3.7,3.8,3.9,4.1,4.2,4.3,4.4,4.5,4.6,4.7,4.8,4.9,5.1],"labels":false,"tickSize":-5,"title":null}},
"y":{"field":"y","type":"quantitative","scale":{"type":"log","domain":[0.001,1.6],"nice":false},"axis":{"orient":"right","values":[0.002,0.003,0.004,0.005,0.006,0.007,0.008,0.009,0.02,0.03,0.04,0.05,0.06,0.07,0.08,0.09,0.2,0.3,0.4,0.5,0.6,0.7,0.8,0.9],"labels":false,"tickSize":-5,"title":null}}}},
{"data":{"name":"q0"},"mark":{"type":"point","shape":"square","size":64,"filled":false,"color":"#ff9f30","strokeWidth":1,"opacity":1}},
{"data":{"name":"t250"},"mark":{"type":"point","shape":"triangle-up","size":70,"filled":false,"color":"#0000ff","strokeWidth":1,"opacity":1}},
{"data":{"name":"t120"},"mark":{"type":"point","shape":"triangle-up","size":70,"filled":false,"color":"#c00000","strokeWidth":1,"opacity":1}},
{"data":{"name":"t0"},"mark":{"type":"point","shape":"triangle-up","size":70,"filled":false,"color":"#ff9f30","strokeWidth":1,"opacity":1}},
{"data":{"name":"c250"},"mark":{"type":"point","shape":"M-1,-1L1,1M-1,1L1,-1","size":100,"filled":false,"color":"#0000ff","strokeWidth":1,"opacity":1}},
{"data":{"name":"c120"},"mark":{"type":"point","shape":"M-1,-1L1,1M-1,1L1,-1","size":100,"filled":false,"color":"#c00000","strokeWidth":1,"opacity":1}},
{"data":{"name":"c0"},"mark":{"type":"point","shape":"M-1,-1L1,1M-1,1L1,-1","size":100,"filled":false,"color":"#ff9f30","strokeWidth":1,"opacity":1}},
{"data":{"name":"lines"},"mark":{"type":"line","clip":true,"color":"#000","strokeWidth":1},
"encoding":{"detail":{"field":"ln","type":"nominal"},"strokeDash":{"field":"sty","type":"nominal","scale":{"domain":["solid","dash","dashdot","dashdotdot"],"range":[[1,0],[5,6],[7,3,1.5,3],[10,3,1.5,3,1.5,3,1.5,3]]},"legend":null}}},
{"data":{"name":"legsym"},"mark":{"type":"point","filled":false,"strokeWidth":1,"opacity":1},
"encoding":{"shape":{"field":"sh","type":"nominal","scale":{"domain":["FIRE1","FIRE2","FIRE3","BOMEX"],"range":["triangle-up","M-1,-1L1,1M-1,1L1,-1","square","diamond"]},"legend":null},
"size":{"field":"sh","type":"nominal","scale":{"domain":["FIRE1","FIRE2","FIRE3","BOMEX"],"range":[70,100,64,36]},"legend":null},
"color":{"field":"c","type":"nominal","scale":{"domain":["250","120","0"],"range":["#0000ff","#c00000","#ff9f30"]},"legend":null}}},
{"data":{"name":"legtxt"},"mark":{"type":"text","align":"center","baseline":"middle","fontSize":12,"font":"Liberation Sans","color":"#222"},
"encoding":{"text":{"field":"t","type":"nominal"}}},
{"data":{"name":"legtxt2"},"mark":{"type":"text","align":"left","baseline":"middle","fontSize":13,"font":"Liberation Sans","color":"#222"},
"encoding":{"text":{"field":"t","type":"nominal"}}}
],
"resolve":{"axis":{"x":"independent","y":"independent"}}
}
